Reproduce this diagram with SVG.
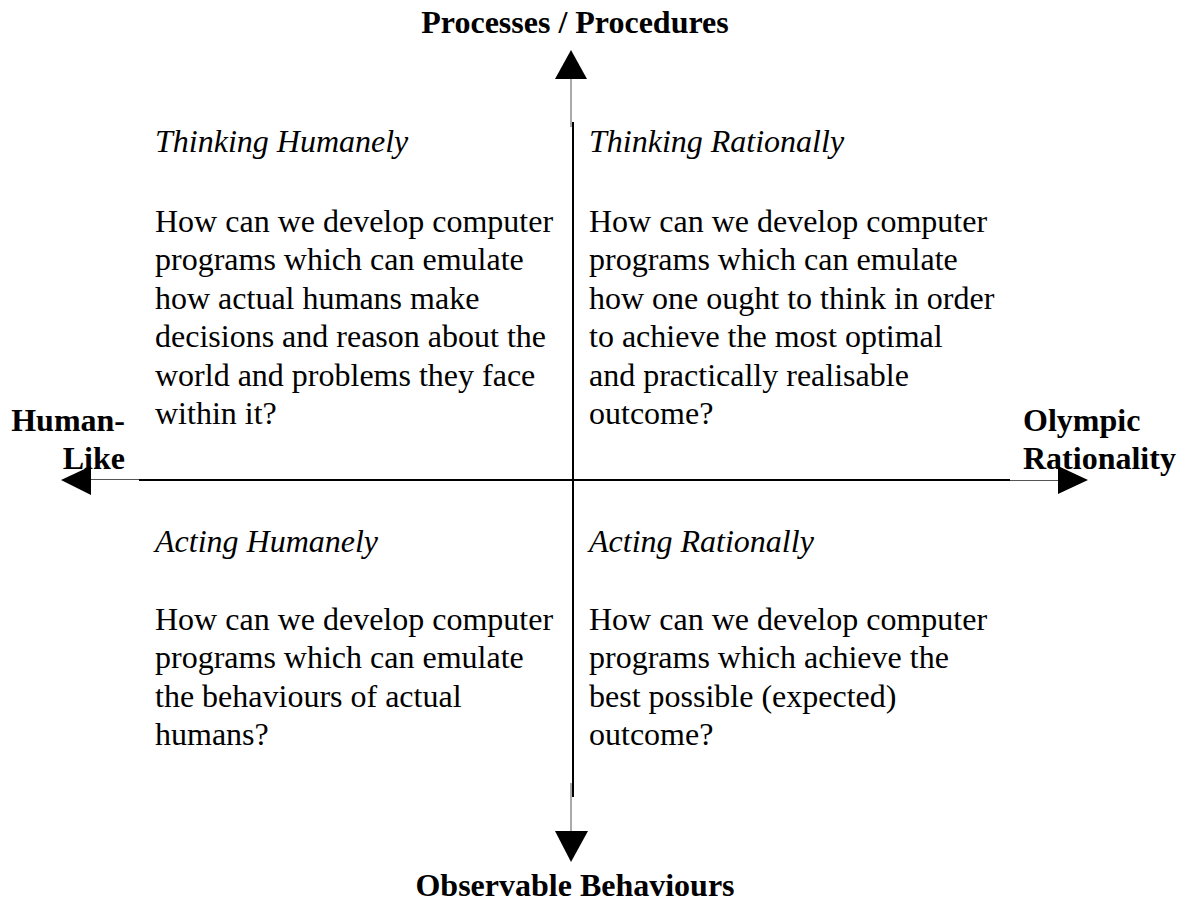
<svg xmlns="http://www.w3.org/2000/svg" width="1185" height="912" viewBox="0 0 1185 912">
<style>
text{font-family:"Liberation Serif","Times New Roman",serif;font-size:32px;fill:#000}
.h{font-style:italic}
.b{font-weight:bold}
.thick{stroke:#000;stroke-width:2;fill:none}
.thin{stroke:#555;stroke-width:1;fill:none}
.head{fill:#000;stroke:none}
</style>
<rect width="1185" height="912" fill="#fff"/>
<g id="connectors">
<line class="thin" x1="571" y1="79" x2="571" y2="127"/>
<line class="thick" x1="573" y1="122" x2="573" y2="797"/>
<line class="thin" x1="571" y1="783" x2="571" y2="831"/>
<polygon class="head" points="571,50 555,79 587,79"/>
<polygon class="head" points="571,862 555,831 588,831"/>
<line class="thin" x1="90" y1="479.5" x2="139" y2="479.5"/>
<line class="thick" x1="139" y1="480" x2="1010" y2="480"/>
<line class="thin" x1="1010" y1="480.5" x2="1058" y2="480.5"/>
<polygon class="head" points="61,480 91,466 91,495"/>
<polygon class="head" points="1088,480 1058,466 1058,494"/>
</g>
<g id="axis-top"><text class="b" x="575" y="33" text-anchor="middle">Processes / Procedures</text></g>
<g id="axis-bottom"><text class="b" x="575" y="896" text-anchor="middle">Observable Behaviours</text></g>
<g id="axis-left"><text class="b" text-anchor="end"><tspan x="125" y="431">Human-</tspan><tspan x="125" y="469">Like</tspan></text></g>
<g id="axis-right"><text class="b"><tspan x="1023" y="431">Olympic</tspan><tspan x="1023" y="469">Rationality</tspan></text></g>
<g id="thinking-humanely">
<text class="h" x="155" y="152">Thinking Humanely</text>
<text><tspan x="155" y="231.5">How can we develop computer</tspan><tspan x="155" y="270">programs which can emulate</tspan><tspan x="155" y="308.5">how actual humans make</tspan><tspan x="155" y="347">decisions and reason about the</tspan><tspan x="155" y="385.5">world and problems they face</tspan><tspan x="155" y="424">within it?</tspan></text>
</g>
<g id="thinking-rationally">
<text class="h" x="589" y="152">Thinking Rationally</text>
<text><tspan x="589" y="231.5">How can we develop computer</tspan><tspan x="589" y="270">programs which can emulate</tspan><tspan x="589" y="308.5">how one ought to think in order</tspan><tspan x="589" y="347">to achieve the most optimal</tspan><tspan x="589" y="385.5">and practically realisable</tspan><tspan x="589" y="424">outcome?</tspan></text>
</g>
<g id="acting-humanely">
<text class="h" x="155" y="551.5">Acting Humanely</text>
<text><tspan x="155" y="629.5">How can we develop computer</tspan><tspan x="155" y="668">programs which can emulate</tspan><tspan x="155" y="706.5">the behaviours of actual</tspan><tspan x="155" y="745">humans?</tspan></text>
</g>
<g id="acting-rationally">
<text class="h" x="589" y="551.5">Acting Rationally</text>
<text><tspan x="589" y="629.5">How can we develop computer</tspan><tspan x="589" y="668">programs which achieve the</tspan><tspan x="589" y="706.5">best possible (expected)</tspan><tspan x="589" y="745">outcome?</tspan></text>
</g>
</svg>
